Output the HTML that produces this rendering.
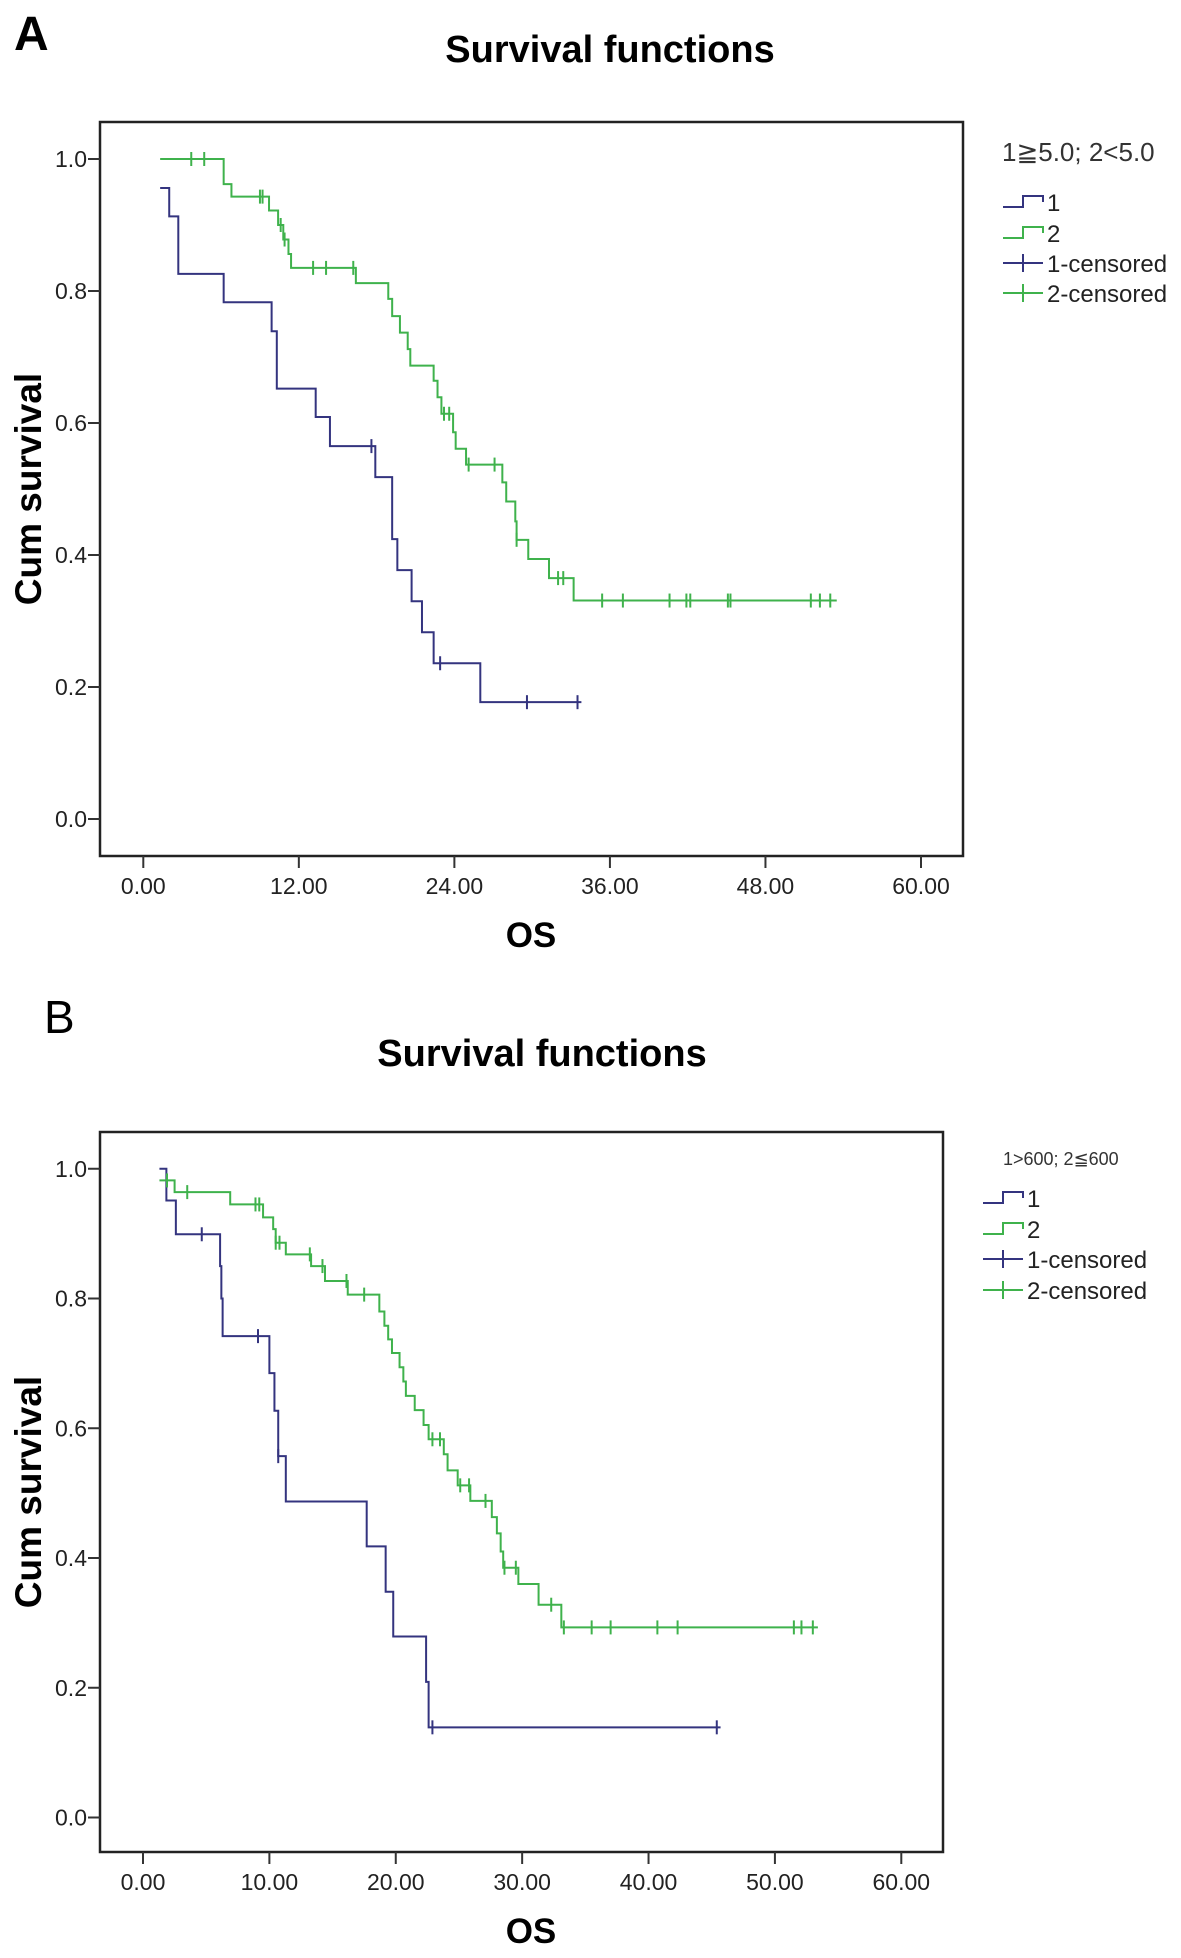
<!DOCTYPE html>
<html><head><meta charset="utf-8"><style>
html,body{margin:0;padding:0;background:#fff;}
svg{display:block;font-family:"Liberation Sans",Arial,sans-serif;}
</style></head><body>
<svg id="s" width="1181" height="1958" viewBox="0 0 1181 1958">
<text x="14" y="50" font-size="48" font-weight="bold">A</text>
<text x="610" y="62" font-size="38" font-weight="bold" text-anchor="middle">Survival functions</text>
<text x="44" y="1033" font-size="46">B</text>
<text x="542" y="1066" font-size="38" font-weight="bold" text-anchor="middle">Survival functions</text>
</svg>
<script>
// ---- Chart A data ----
const aXTicks=[0,12,24,36,48,60];
const aXTickLabels=["0.00","12.00","24.00","36.00","48.00","60.00"];
const yTicks=[0,0.2,0.4,0.6,0.8,1.0];
const yTickLabels=["0.0","0.2","0.4","0.6","0.8","1.0"];
const a1Start=[1.3,0.956];
const a1Times=[2.0,2.7,6.2,9.9,10.3,13.3,14.4,17.9,19.2,19.6,20.7,21.5,22.4,26.0];
const a1Surv=[0.913,0.826,0.783,0.739,0.652,0.609,0.565,0.518,0.424,0.377,0.33,0.283,0.236,0.177];
const a1End=33.8;
const a1Cens=[17.6,22.9,29.6,33.5];
const a2Start=[1.3,1.0];
const a2Times=[6.2,6.8,9.7,10.4,10.8,11.2,11.4,16.4,18.9,19.2,19.8,20.4,20.6,22.4,22.7,23.0,23.9,24.1,24.9,27.7,28.0,28.7,28.8,29.7,31.3,33.2];
const a2Surv=[0.962,0.943,0.922,0.9,0.878,0.856,0.835,0.812,0.788,0.762,0.737,0.712,0.687,0.664,0.639,0.614,0.586,0.561,0.537,0.51,0.481,0.451,0.423,0.394,0.365,0.331];
const a2End=53.5;
const a2Cens=[3.7,4.7,9.0,9.2,10.6,10.9,13.1,14.1,16.2,23.2,23.6,25.1,27.1,28.8,32.0,32.4,35.4,37.0,40.6,41.9,42.2,45.1,45.3,51.5,52.2,53.0];
// ---- Chart B data ----
const bXTicks=[0,10,20,30,40,50,60];
const bXTickLabels=["0.00","10.00","20.00","30.00","40.00","50.00","60.00"];
const b1Start=[1.3,1.0];
const b1Times=[1.85,2.6,6.1,6.2,6.3,10.0,10.4,10.7,11.3,17.7,19.2,19.8,22.4,22.6];
const b1Surv=[0.951,0.899,0.85,0.8,0.742,0.685,0.627,0.557,0.487,0.418,0.348,0.279,0.209,0.139];
const b1End=45.7;
const b1Cens=[4.65,9.1,10.7,22.9,45.4];
const b2Start=[1.3,0.982];
const b2Times=[2.5,6.9,9.5,10.3,10.5,11.3,13.3,14.4,16.2,18.7,19.1,19.4,19.7,20.3,20.6,20.8,21.5,22.2,22.6,23.8,24.1,24.9,25.9,27.6,28.0,28.3,28.5,29.7,31.3,33.1];
const b2Surv=[0.964,0.945,0.925,0.907,0.886,0.868,0.85,0.827,0.806,0.78,0.758,0.737,0.716,0.694,0.672,0.65,0.628,0.605,0.583,0.56,0.535,0.512,0.488,0.463,0.438,0.41,0.385,0.36,0.328,0.293];
const b2End=53.4;
const b2Cens=[1.9,3.5,8.9,9.2,10.5,10.8,13.2,14.2,16.1,17.5,22.9,23.5,25.1,25.8,27.1,28.6,29.5,32.3,33.3,35.5,37.0,40.7,42.3,51.5,52.1,53.0];

const NS="http://www.w3.org/2000/svg";
const svg=document.getElementById('s');
function mk(tag,attrs,parent){const e=document.createElementNS(NS,tag);for(const k in attrs)e.setAttribute(k,attrs[k]);(parent||svg).appendChild(e);return e;}
const NAVY="#34347f",GREEN="#3fb24c";

function chart(cfg){
  const g=mk('g',{});
  
  
  const X=t=>cfg.x0+t*(cfg.x60-cfg.x0)/60;
  const Y=v=>cfg.y0+v*(cfg.y1-cfg.y0);
  const box=mk('rect',{x:cfg.L,y:cfg.T,width:cfg.R-cfg.L,height:cfg.B-cfg.T,fill:'none',stroke:'#222','stroke-width':2.5},g);
  
  
  cfg.xt.forEach((t,i)=>{
    const l=mk('line',{x1:X(t),x2:X(t),y1:cfg.B,y2:cfg.B+12,stroke:'#333','stroke-width':2},g);
    
    
    const tx=mk('text',{x:X(t),y:cfg.B+38,'font-size':23,'text-anchor':'middle',fill:'#222'},g);
    tx.textContent=cfg.xl[i];
    
    
  });
  yTicks.forEach((v,i)=>{
    const l=mk('line',{x1:cfg.L-12,x2:cfg.L,y1:Y(v),y2:Y(v),stroke:'#333','stroke-width':2},g);
    
    
    const tx=mk('text',{x:cfg.L-13,y:Y(v)+8,'font-size':23,'text-anchor':'end',fill:'#222'},g);
    tx.textContent=yTickLabels[i];
    
    
  });
  const xt=mk('text',{x:531,y:cfg.B+91,'font-size':35,'font-weight':'bold','text-anchor':'middle'},g);
  xt.textContent='OS';
  
  
  const yc=(cfg.T+cfg.B)/2;
  const yt=mk('text',{x:0,y:0,'font-size':37,'font-weight':'bold','text-anchor':'middle',transform:`translate(41,${yc}) rotate(-90)`},g);
  yt.textContent='Cum survival';
  
  
  cfg.series.forEach(s=>{
    let d=`M${X(s.start[0])},${Y(s.start[1])}`;
    s.times.forEach((t,i)=>{d+=` H${X(t)} V${Y(s.surv[i])}`;});
    d+=` H${X(s.end)}`;
    const p=mk('path',{d:d,fill:'none',stroke:s.color,'stroke-width':2},g);
    
    
    s.cens.forEach(t=>{
      let v=s.start[1];s.times.forEach((tt,i)=>{if(tt<=t)v=s.surv[i];});
      const c=mk('line',{x1:X(t),x2:X(t),y1:Y(v)-7,y2:Y(v)+7,stroke:s.color,'stroke-width':2},g);
      
      
    });
  });
  const lg=mk('g',{},g);
  
  
  const lt=mk('text',{x:cfg.lgX,y:cfg.lgTY,'font-size':cfg.lgTS,fill:'#333'},lg);
  lt.textContent=cfg.lgTitle;
  
  
  const labels=['1','2','1-censored','2-censored'];const cols=[NAVY,GREEN,NAVY,GREEN];
  labels.forEach((lab,i)=>{
    const y=cfg.lgY[i];const sx=cfg.lgSX;
    const e=mk('g',{},lg);
    
    
    if(i<2){mk('path',{d:`M${sx},${y+5} H${sx+20} V${y-6} H${sx+40} V${y}`,fill:'none',stroke:cols[i],'stroke-width':2},e);}
    else{mk('path',{d:`M${sx},${y} H${sx+40} M${sx+20},${y-9} V${y+9}`,fill:'none',stroke:cols[i],'stroke-width':2},e);}
    const t=mk('text',{x:sx+44,y:y+9,'font-size':24,fill:'#222'},e);t.textContent=lab;
  });
}
chart({name:'chart-a',L:100,R:963,T:122,B:856,x0:143.3,x60:921,y0:819,y1:159,xt:aXTicks,xl:aXTickLabels,
  lgX:1002,lgTY:161,lgTS:26,lgTitle:'1\u2267 5.0; 2<5.0'.replace('\u2267 ','\u2267'),lgY:[202,233,263,293],lgSX:1003,
  series:[{name:'group-1',color:NAVY,start:a1Start,times:a1Times,surv:a1Surv,end:a1End,cens:a1Cens},
          {name:'group-2',color:GREEN,start:a2Start,times:a2Times,surv:a2Surv,end:a2End,cens:a2Cens}]});
chart({name:'chart-b',L:100,R:943,T:1132,B:1852,x0:143,x60:901.3,y0:1817.5,y1:1168.75,xt:bXTicks,xl:bXTickLabels,
  lgX:1003,lgTY:1165,lgTS:18,lgTitle:'1>600; 2\u2266600',lgY:[1198,1229,1259,1290],lgSX:983,
  series:[{name:'group-1',color:NAVY,start:b1Start,times:b1Times,surv:b1Surv,end:b1End,cens:b1Cens},
          {name:'group-2',color:GREEN,start:b2Start,times:b2Times,surv:b2Surv,end:b2End,cens:b2Cens}]});
</script>
</body></html>
